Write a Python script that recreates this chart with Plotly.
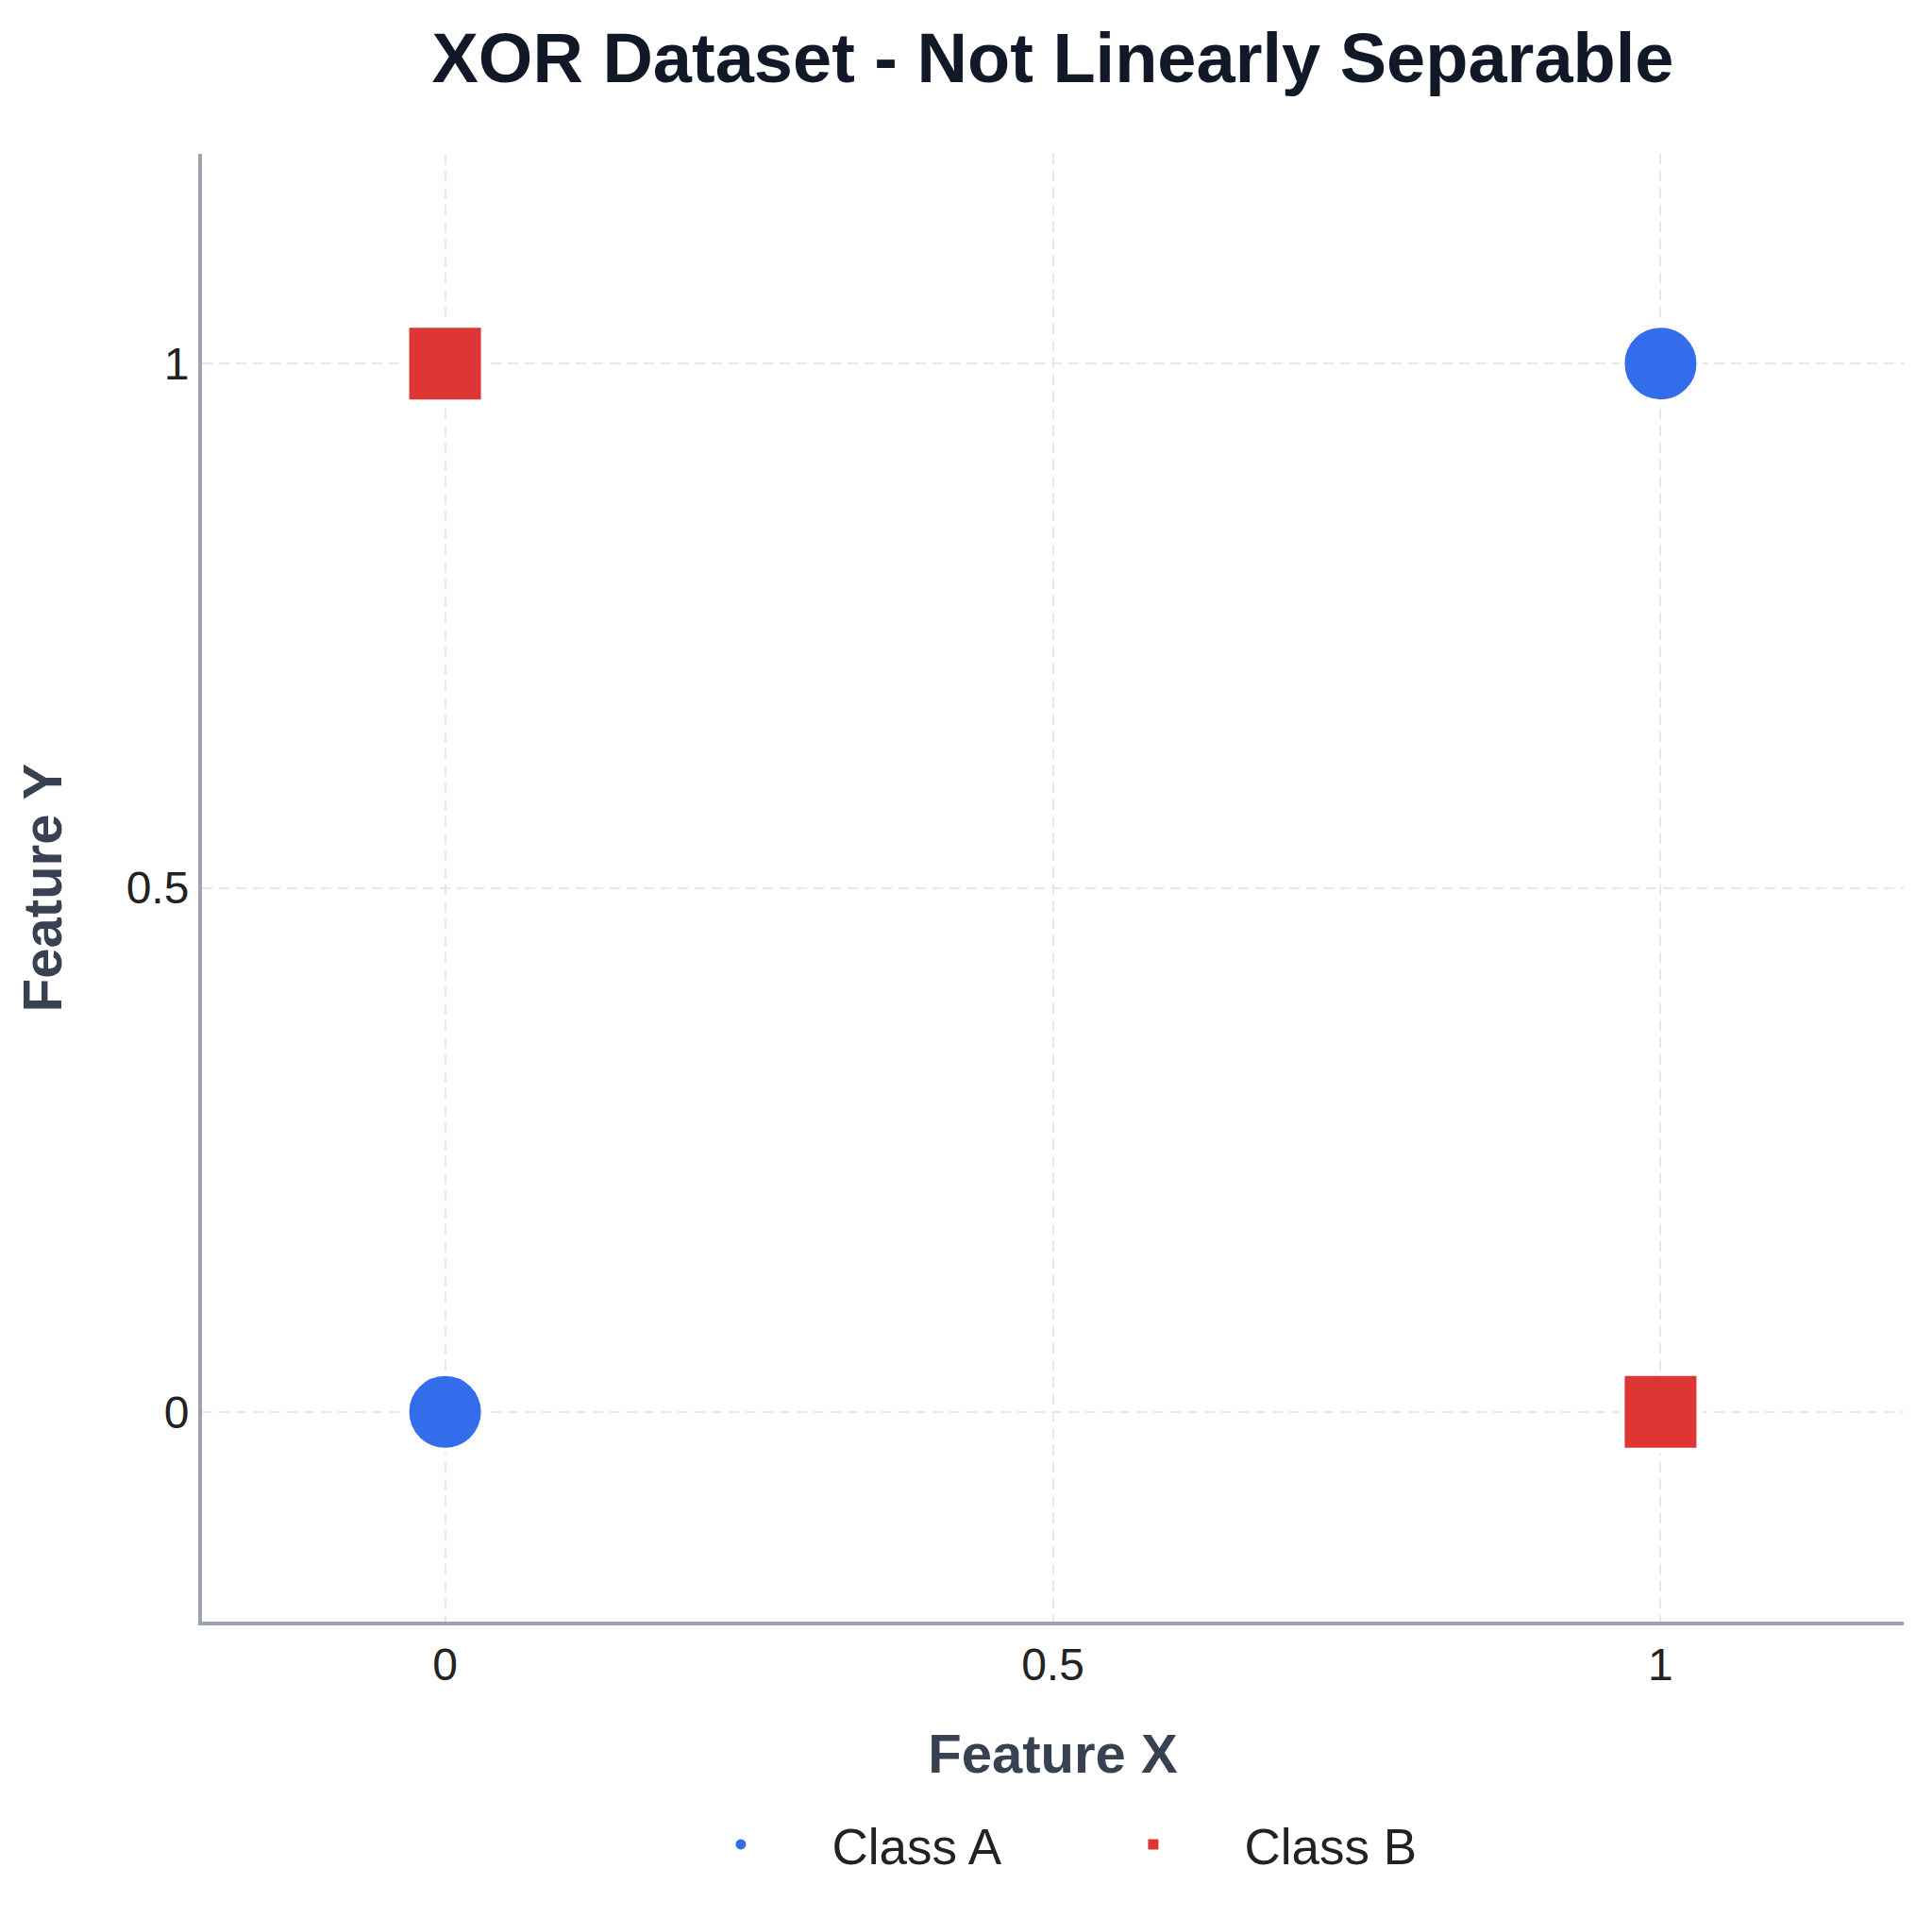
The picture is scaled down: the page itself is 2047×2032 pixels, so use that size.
import plotly.graph_objects as go

# Data
class_a_x = [0, 1]
class_a_y = [0, 1]
class_b_x = [0, 1]
class_b_y = [1, 0]
tick_vals = [0, 0.5, 1]
tick_text = ["0", "0.5", "1"]

FONT = "Liberation Sans, Arial, sans-serif"

fig = go.Figure()
fig.add_trace(go.Scatter(
    x=class_a_x, y=class_a_y, mode="markers", name="Class A",
    marker=dict(symbol="circle", size=82, color="#2563eb", opacity=0.93,
                line=dict(color="white", width=6)),
))
fig.add_trace(go.Scatter(
    x=class_b_x, y=class_b_y, mode="markers", name="Class B",
    marker=dict(symbol="square", size=82, color="#dc2626", opacity=0.93,
                line=dict(color="white", width=6)),
))

axis_common = dict(
    range=[-0.2, 1.2],
    tickvals=tick_vals, ticktext=tick_text,
    showgrid=True, gridcolor="#e5e7eb", gridwidth=2, griddash="11px,7px",
    zeroline=False,
    showline=True, linecolor="#9ca3af", linewidth=4,
    ticks="",
    tickfont=dict(family=FONT, size=48, color="#222222"),
    mirror=False,
    automargin=False,
)

fig.update_layout(
    width=2047, height=2032,
    paper_bgcolor="white", plot_bgcolor="white",
    margin=dict(l=214, r=30, t=163, b=314, autoexpand=False),
    title=dict(text="<b>XOR Dataset - Not Linearly Separable</b>",
               x=0.5, xref="paper", xanchor="center",
               y=0.97, yref="container", yanchor="middle",
               font=dict(family=FONT, size=74, color="#111827")),
    xaxis=dict(**axis_common,
               title=dict(text="<b>Feature X</b>", standoff=50,
                          font=dict(family=FONT, size=58, color="#374151"))),
    yaxis=dict(**axis_common,
               title=dict(text="<b>Feature Y</b>", standoff=50,
                          font=dict(family=FONT, size=58, color="#374151"))),
    legend=dict(orientation="h", x=0.5055, xanchor="center", xref="paper",
                y=0.0384, yref="container", yanchor="middle",
                font=dict(family=FONT, size=53, color="#222222"),
                itemsizing="trace", itemwidth=183, entrywidth=239),
    showlegend=True,
)

fig.write_html("out.html")
